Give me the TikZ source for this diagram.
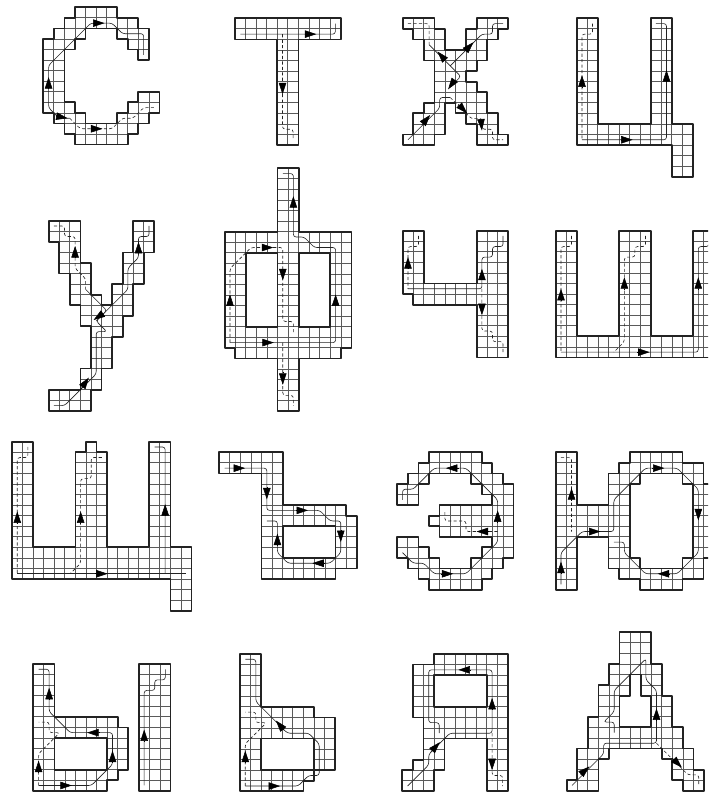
\documentclass[tikz,border=0pt]{standalone}
\usepackage{xcolor}
\usetikzlibrary{arrows.meta}
\definecolor{inkline}{RGB}{35, 35, 35}
\definecolor{cellline}{RGB}{90, 90, 90}
\newcommand{\glyph}[1]{%
    \begin{scope}
        \clip #1;
        \foreach \i in {0,...,17} \draw[cellgrid] (\i,0) -- (\i,23);
        \foreach \j in {0,...,23} \draw[cellgrid] (0,\j) -- (17,\j);
    \end{scope}
    \draw[outline] #1;
}
\newcommand{\glyphhole}[1]{\filldraw[outline, fill=white] #1;}

\begin{document}
\begin{tikzpicture}[
            x=0.02cm, y=-0.02cm,
            letter/.style={shift={#1}, x=0.2113cm, y=-0.2113cm},
            cellgrid/.style={line width=0.45pt, cellline},
            outline/.style={line width=1pt, inkline, line join=round},
            trace/.style={line width=0.35pt, inkline, rounded corners=1.5pt},
            dtrace/.style={trace, dash pattern=on 1.8pt off 1.3pt},
            tip/.style={-{Triangle[length=2.3mm, width=1.5mm]}, line width=0.3pt, black},
        ]
            \useasboundingbox (0,0) rectangle (708,794);
            \clip (0,0) rectangle (708,794);

            % first row
            \begin{scope}[letter={(43.3,7.3)}]
                \glyph{(3,0)--(7,0)--(7,1)--(9,1)--(9,2)--(10,2)--(10,5)--(9,5)--(9,4)--(8,4)--(8,3)--(7,3)--(7,2)--(4,2)--(4,3)--(3,3)--(3,4)--(2,4)--(2,9)--(3,9)--(3,10)--(4,10)--(4,11)--(7,11)--(7,10)--(8,10)--(8,9)--(9,9)--(9,8)--(11,8)--(11,10)--(10,10)--(10,11)--(9,11)--(9,12)--(8,12)--(8,13)--(3,13)--(3,12)--(2,12)--(2,11)--(1,11)--(1,10)--(0,10)--(0,3)--(1,3)--(1,2)--(2,2)--(2,1)--(3,1)--cycle}
                \draw[trace] (9.5,4.5)--(9.5,2.5)--(7.5,2.5)--(6.5,1.5)--(4.5,1.5)--(0.5,5.5)--(0.5,9.5)--(1.5,10.5)--(2.5,10.5);
                \draw[dtrace] (2.5,10.5)--(3.5,11.5)--(6.5,11.5)--(7.5,10.5)--(8.5,10.5)--(9.5,9.5)--(10.5,9.5);
                \draw[tip] (4.7,1.5)--(5.8,1.5);
                \draw[tip] (0.5,7.6)--(0.5,6.6);
                \draw[tip] (1.2,10.3)--(2.3,10.5);
                \draw[tip] (4.5,11.5)--(5.6,11.5);
            \end{scope}
            \begin{scope}[letter={(235,18.3)}]
                \glyph{(0,0)--(10,0)--(10,2)--(6,2)--(6,12)--(4,12)--(4,2)--(0,2)--cycle}
                \draw[trace] (0.5,1.5)--(9.5,1.5)--(9.5,0.5);
                \draw[dtrace] (4.5,1.5)--(4.5,10.5)--(5.5,10.5)--(5.5,11.5);
                \draw[tip] (6.6,1.5)--(7.7,1.5);
                \draw[tip] (4.5,6.1)--(4.5,7.2);
            \end{scope}
            \begin{scope}[letter={(402.7,18.3)}]
                \glyph{(0,0)--(3,0)--(3,1)--(4,1)--(4,3)--(6,3)--(6,1)--(7,1)--(7,0)--(10,0)--(10,1)--(9,1)--(9,2)--(8,2)--(8,4)--(7,4)--(7,5)--(6,5)--(6,6)--(7,6)--(7,7)--(8,7)--(8,9)--(9,9)--(9,11)--(10,11)--(10,12)--(7,12)--(7,10)--(6,10)--(6,9)--(5,9)--(5,8)--(4,8)--(4,11)--(3,11)--(3,12)--(0,12)--(0,11)--(1,11)--(1,9)--(2,9)--(2,8)--(3,8)--(3,4)--(2,4)--(2,2)--(1,2)--(1,1)--(0,1)--cycle}
                \draw[dtrace] (0.5,0.5)--(2.5,0.5)--(2.5,2.5);
                \draw[trace] (2.5,2.5)--(5.5,5.5)--(4.5,6.5);
                \draw[trace] (9.5,0.5)--(8.5,0.5)--(8.5,1.5)--(7.5,1.5)--(4.5,4.5);
                \draw[trace] (0.5,11.5)--(3.5,8.5)--(3.5,7.5)--(4.5,7.5);
                \draw[dtrace] (4.5,7.5)--(6.5,9.5)--(7.5,9.5)--(7.5,10.5)--(8.5,10.5)--(8.5,11.5)--(9.5,11.5);
                \draw[tip] (4,3.95)--(3.3,3.15);
                \draw[tip] (6,3)--(6.7,2.27);
                \draw[tip] (4.86,5.93)--(4.3,6.72);
                \draw[tip] (1.8,10.1)--(2.6,9.15);
                \draw[tip] (5.27,8.14)--(6.1,9);
                \draw[tip] (7.4,9.46)--(7.5,10.63);
            \end{scope}
            \begin{scope}[letter={(576.7,18.3)}]
                \glyph{(0,0)--(2,0)--(2,10)--(7,10)--(7,0)--(9,0)--(9,10)--(11,10)--(11,15)--(9,15)--(9,12)--(0,12)--cycle}
                \draw[dtrace] (1.5,0.5)--(1.5,1.5)--(0.5,1.5)--(0.5,11.5);
                \draw[trace] (0.5,11.5)--(8.5,11.5)--(8.5,0.5)--(7.5,0.5);
                \draw[tip] (0.5,6.5)--(0.5,5.4);
                \draw[tip] (4.26,11.5)--(5.3,11.5);
                \draw[tip] (8.5,5.9)--(8.5,4.9);
            \end{scope}

            % second row
            \begin{scope}[letter={(48.7,220.7)}]
                \glyph{(0,0)--(3,0)--(3,4)--(4,4)--(4,7)--(5,7)--(5,8)--(6,8)--(6,6)--(7,6)--(7,3)--(8,3)--(8,0)--(10,0)--(10,3)--(9,3)--(9,6)--(8,6)--(8,9)--(7,9)--(7,11)--(6,11)--(6,14)--(5,14)--(5,16)--(4,16)--(4,18)--(0,18)--(0,16)--(3,16)--(3,14)--(4,14)--(4,10)--(3,10)--(3,8)--(2,8)--(2,5)--(1,5)--(1,2)--(0,2)--cycle}
                \draw[dtrace] (0.5,0.5)--(1.5,0.5)--(1.5,1.5)--(2.5,1.5)--(2.5,4.5)--(3.5,5.5)--(3.5,6.5);
                \draw[trace] (3.5,6.5)--(5.5,8.5)--(4.5,9.5);
                \draw[trace] (0.5,17.5)--(1.5,17.5)--(4.5,14.5)--(4.5,10.5)--(5.5,10.5)--(4.5,9.5)--(7.5,6.5)--(7.5,4.5)--(8.5,3.5)--(8.5,1.5)--(9.5,1.5)--(9.5,0.5);
                \draw[tip] (2.5,3.5)--(2.5,2.4);
                \draw[tip] (8.5,3)--(8.5,2);
                \draw[tip] (4.98,8.9)--(4.25,9.4);
                \draw[tip] (3,16)--(3.8,14.85);
            \end{scope}
            \begin{scope}[letter={(224.7,168.3)}]
                \glyph{(5,0)--(7,0)--(7,6)--(12,6)--(12,17)--(11,17)--(11,18)--(7,18)--(7,23)--(5,23)--(5,18)--(1,18)--(1,17)--(0,17)--(0,6)--(5,6)--cycle}
                \glyphhole{(2,8) rectangle (5,15)}
                \glyphhole{(7,8) rectangle (10,15)}
                \draw[trace] (5.5,0.5)--(6.5,0.5)--(6.5,6.5)--(7.5,6.5)--(8.5,7.5)--(10.5,7.5)--(10.5,16.5)--(0.5,16.5);
                \draw[dtrace] (0.5,16.5)--(0.5,9.5)--(2.5,7.5)--(5.5,7.5)--(5.5,14.5)--(6.5,14.5)--(6.5,15.5);
                \draw[dtrace] (5.5,16.5)--(5.5,21.5)--(6.5,21.5)--(6.5,22.5);
                \draw[tip] (6.5,3.66)--(6.5,2.64);
                \draw[tip] (0.5,12.96)--(0.5,11.94);
                \draw[tip] (10.5,12.96)--(10.5,11.94);
                \draw[tip] (5.5,9.5)--(5.5,10.6);
                \draw[tip] (5.5,19.3)--(5.5,20.5);
                \draw[tip] (3.5,7.5)--(4.6,7.5);
                \draw[tip] (3.5,16.5)--(4.65,16.5);
            \end{scope}
            \begin{scope}[letter={(402.7,230.7)}]
                \glyph{(0,0)--(2,0)--(2,5)--(7,5)--(7,0)--(10,0)--(10,12)--(7,12)--(7,7)--(1,7)--(1,6)--(0,6)--cycle}
                \draw[dtrace] (1.5,0.5)--(1.5,1.5)--(0.5,1.5)--(0.5,5.5);
                \draw[trace] (0.5,5.5)--(7.5,5.5)--(7.5,2.5)--(8.5,2.5)--(8.5,1.5)--(9.5,1.5)--(9.5,0.5);
                \draw[dtrace] (7.5,5.5)--(7.5,9.5)--(8.5,9.5)--(8.5,10.5)--(9.5,10.5)--(9.5,11.5);
                \draw[tip] (0.5,3.6)--(0.5,2.5);
                \draw[tip] (7.5,4.6)--(7.5,3.6);
                \draw[tip] (7.5,7)--(7.5,8);
            \end{scope}
            \begin{scope}[letter={(555.7,230.7)}]
                \glyph{(0,0)--(2,0)--(2,10)--(6,10)--(6,0)--(9,0)--(9,10)--(13,10)--(13,0)--(16,0)--(16,12)--(0,12)--cycle}
                \draw[dtrace] (1.5,0.5)--(1.5,1.5)--(0.5,1.5)--(0.5,11.5);
                \draw[trace] (0.5,11.5)--(13.5,11.5)--(13.5,1.5)--(14.5,1.5)--(14.5,0.5);
                \draw[dtrace] (8.5,0.5)--(8.5,1.5)--(7.5,1.5)--(7.5,2.5)--(6.5,2.5)--(6.5,10.5)--(5.5,11.5);
                \draw[tip] (0.5,6.6)--(0.5,5.5);
                \draw[tip] (6.5,5.5)--(6.5,4.4);
                \draw[tip] (13.5,5.5)--(13.5,4.4);
                \draw[tip] (7.7,11.5)--(8.9,11.5);
            \end{scope}

            % third row
            \begin{scope}[letter={(12,441.7)}]
                \glyph{(0,0)--(2,0)--(2,10)--(6,10)--(6,1)--(7,1)--(7,0)--(8,0)--(8,1)--(9,1)--(9,10)--(13,10)--(13,0)--(15,0)--(15,10)--(17,10)--(17,16)--(15,16)--(15,13)--(0,13)--cycle}
                \draw[dtrace] (1.5,0.5)--(1.5,1.5)--(0.5,1.5)--(0.5,12.5);
                \draw[trace] (0.5,12.5)--(16.5,12.5);
                \draw[trace] (14.5,12.5)--(14.5,0.5)--(13.5,0.5);
                \draw[dtrace] (8.5,1.5)--(7.5,1.5)--(7.5,3.5)--(6.5,3.5)--(6.5,11.5)--(5.5,12.5);
                \draw[tip] (0.5,7.7)--(0.5,6.6);
                \draw[tip] (6.5,7.7)--(6.5,6.6);
                \draw[tip] (14.5,7)--(14.5,5.9);
                \draw[tip] (7.9,12.5)--(9.05,12.5);
            \end{scope}
            \begin{scope}[letter={(219.3,452.3)}]
                \glyph{(0,0)--(6,0)--(6,5)--(12,5)--(12,6)--(13,6)--(13,11)--(11,11)--(11,12)--(4,12)--(4,2)--(0,2)--cycle}
                \glyphhole{(6,7) rectangle (11,10)}
                \draw[trace] (0.5,1.5)--(4.5,1.5)--(4.5,5.5)--(9.5,5.5)--(10.5,6.5)--(11.5,6.5)--(11.5,9.5)--(10.5,10.5)--(6.5,10.5)--(5.5,9.5)--(5.5,6.5)--(4.5,6.5);
                \draw[tip] (1.4,1.5)--(2.45,1.5);
                \draw[tip] (4.5,3.3)--(4.5,4.45);
                \draw[tip] (7.3,5.5)--(8.4,5.5);
                \draw[tip] (11.5,7.4)--(11.5,8.5);
                \draw[tip] (9.9,10.5)--(8.8,10.5);
                \draw[tip] (5.5,8.8)--(5.5,7.7);
            \end{scope}
            \begin{scope}[letter={(397.3,452.3)}]
                \glyph{(3,0)--(8,0)--(8,1)--(9,1)--(9,2)--(10,2)--(10,3)--(11,3)--(11,10)--(10,10)--(10,11)--(9,11)--(9,12)--(8,12)--(8,13)--(3,13)--(3,12)--(2,12)--(2,11)--(1,11)--(1,10)--(0,10)--(0,8)--(2,8)--(2,9)--(3,9)--(3,10)--(4,10)--(4,11)--(7,11)--(7,10)--(8,10)--(8,9)--(9,9)--(9,8)--(4,8)--(4,7)--(3,7)--(3,6)--(4,6)--(4,5)--(9,5)--(9,4)--(8,4)--(8,3)--(7,3)--(7,2)--(3,2)--(3,3)--(2,3)--(2,5)--(0,5)--(0,3)--(1,3)--(1,2)--(2,2)--(2,1)--(3,1)--cycle}
                \draw[trace] (0.5,4.5)--(0.5,3.5)--(1.5,3.5)--(3.5,1.5)--(6.5,1.5)--(9.5,4.5)--(9.5,8.5)--(6.5,11.5)--(3.5,11.5)--(2.5,10.5)--(1.5,10.5)--(0.5,9.5);
                \draw[dtrace] (9.5,7.5)--(6.5,7.5)--(6.5,6.5)--(4.5,6.5)--(4.5,5.5);
                \draw[tip] (5.8,1.5)--(4.6,1.5);
                \draw[tip] (9.5,6.65)--(9.5,5.5);
                \draw[tip] (8.7,7.5)--(7.5,7.5);
                \draw[tip] (4.15,11.5)--(5.3,11.5);
            \end{scope}
            \begin{scope}[letter={(555.7,452.3)}]
                \glyph{(0,0)--(2,0)--(2,5)--(5,5)--(5,2)--(6,2)--(6,1)--(7,1)--(7,0)--(12,0)--(12,1)--(14,1)--(14,3)--(16,3)--(16,10)--(14,10)--(14,12)--(12,12)--(12,13)--(8,13)--(8,12)--(6,12)--(6,11)--(5,11)--(5,8)--(2,8)--(2,13)--(0,13)--cycle}
                \glyphhole{(8,2)--(12,2)--(12,3)--(13,3)--(13,10)--(12,10)--(12,11)--(8,11)--(8,10)--(7,10)--(7,3)--(8,3)--cycle}
                \draw[trace] (0.5,12.5)--(0.5,9.5)--(2.5,7.5)--(5.5,7.5)--(5.5,4.5)--(8.5,1.5)--(11.5,1.5)--(13.5,3.5)--(13.5,9.5)--(11.5,11.5)--(8.5,11.5)--(6.5,9.5)--(6.5,8.5)--(5.5,8.5);
                \draw[dtrace] (0.5,0.5)--(1.5,0.5)--(1.5,7.5);
                \draw[tip] (0.5,11.5)--(0.5,10.35);
                \draw[tip] (1.5,4.5)--(1.5,3.4);
                \draw[tip] (3.2,7.5)--(4.25,7.5);
                \draw[tip] (9.15,1.5)--(10.3,1.5);
                \draw[tip] (13.5,5.35)--(13.5,6.45);
                \draw[tip] (10.7,11.5)--(9.65,11.5);
            \end{scope}

            % last row
            \begin{scope}[letter={(33.3,664)}]
                \glyph{(0,0)--(2,0)--(2,5)--(8,5)--(8,6)--(9,6)--(9,10)--(8,10)--(8,11)--(7,11)--(7,12)--(0,12)--cycle}
                \glyphhole{(2,7) rectangle (7,10)}
                \draw[trace] (0.5,0.5)--(1.5,0.5)--(1.5,4.5)--(3.5,6.5)--(7.5,6.5)--(7.5,9.5)--(5.5,11.5)--(0.5,11.5);
                \draw[dtrace] (0.5,11.5)--(0.5,8.5)--(2.5,6.5)--(1.5,6.5)--(1.5,5.5)--(0.5,5.5);
                \draw[tip] (1.5,3.3)--(1.5,2.25);
                \draw[tip] (6.2,6.5)--(5.1,6.5);
                \draw[tip] (7.5,9.3)--(7.5,8.2);
                \draw[tip] (2.55,11.5)--(3.65,11.5);
                \draw[tip] (0.5,10.25)--(0.5,9.15);
            \end{scope}
            \begin{scope}[letter={(138.9,664)}]
                \glyph{(0,0)--(3,0)--(3,12)--(0,12)--cycle}
                \draw[trace] (2.5,0.5)--(2.5,1.5)--(1.5,1.5)--(1.5,2.5)--(0.5,2.5)--(0.5,11.5);
                \draw[tip] (0.5,7.3)--(0.5,6.2);
            \end{scope}
            \begin{scope}[letter={(240,654)}]
                \glyph{(0,0)--(2,0)--(2,5)--(7,5)--(7,6)--(9,6)--(9,11)--(7,11)--(7,12)--(6,12)--(6,13)--(0,13)--cycle}
                \glyphhole{(2,8) rectangle (7,11)}
                \draw[trace] (0.5,0.5)--(1.5,0.5)--(1.5,4.5)--(4.5,7.5)--(6.5,7.5)--(7.5,8.5)--(7.5,11.5)--(6.5,11.5)--(5.5,12.5)--(0.5,12.5);
                \draw[dtrace] (0.5,12.5)--(0.5,8.5)--(2.5,6.5)--(1.5,6.5)--(1.5,5.5)--(0.5,5.5);
                \draw[tip] (0.5,10.25)--(0.5,9.15);
                \draw[tip] (2.7,12.5)--(3.8,12.5);
                \draw[tip] (4.2,7.25)--(3.4,6.3);
            \end{scope}
            \begin{scope}[letter={(402.3,654)}]
                \glyph{(3,0)--(10,0)--(10,13)--(8,13)--(8,8)--(4,8)--(4,11)--(3,11)--(3,13)--(0,13)--(0,11)--(1,11)--(1,10)--(2,10)--(2,6)--(1,6)--(1,1)--(3,1)--cycle}
                \glyphhole{(3,2) rectangle (8,5)}
                \draw[trace] (3.5,7.5)--(3.5,6.5)--(2.5,6.5)--(2.5,1.5)--(8.5,1.5)--(8.5,7.5)--(4.5,7.5)--(2.5,9.5)--(2.5,10.5)--(0.5,12.5);
                \draw[dtrace] (8.5,7.5)--(8.5,11.5)--(9.5,11.5)--(9.5,12.5);
                \draw[tip] (6.4,1.5)--(5.3,1.5);
                \draw[tip] (8.5,5.25)--(8.5,4.15);
                \draw[tip] (2.7,9.2)--(3.55,8.35);
                \draw[tip] (8.5,9.9)--(8.5,11);
            \end{scope}
            \begin{scope}[letter={(566.7,632.3)}]
                \glyph{(5,0)--(8,0)--(8,3)--(9,3)--(9,6)--(10,6)--(10,9)--(11,9)--(11,11)--(12,11)--(12,13)--(13,13)--(13,15)--(11,15)--(11,14)--(10,14)--(10,12)--(9,12)--(9,11)--(4,11)--(4,12)--(3,12)--(3,15)--(0,15)--(0,14)--(1,14)--(1,11)--(2,11)--(2,8)--(3,8)--(3,5)--(4,5)--(4,3)--(5,3)--cycle}
                \glyphhole{(6,4)--(7,4)--(7,6)--(8,6)--(8,9)--(5,9)--(5,6)--(6,6)--cycle}
                \draw[trace] (4.5,9.5)--(4.5,8.5)--(3.5,8.5)--(4.5,7.5)--(4.5,5.5)--(7.5,2.5)--(7.5,4.5)--(8.5,5.5)--(8.5,10.5)--(3.5,10.5)--(3.5,11.5)--(0.5,14.5);
                \draw[dtrace] (8.5,10.5)--(11.5,13.5)--(12.5,13.5)--(12.5,14.5);
                \draw[tip] (1.35,13.5)--(2.15,12.7);
                \draw[tip] (8.5,8.3)--(8.5,7.2);
                \draw[tip] (10,11.9)--(10.9,12.8);
            \end{scope}
        \end{tikzpicture}
\end{document}
